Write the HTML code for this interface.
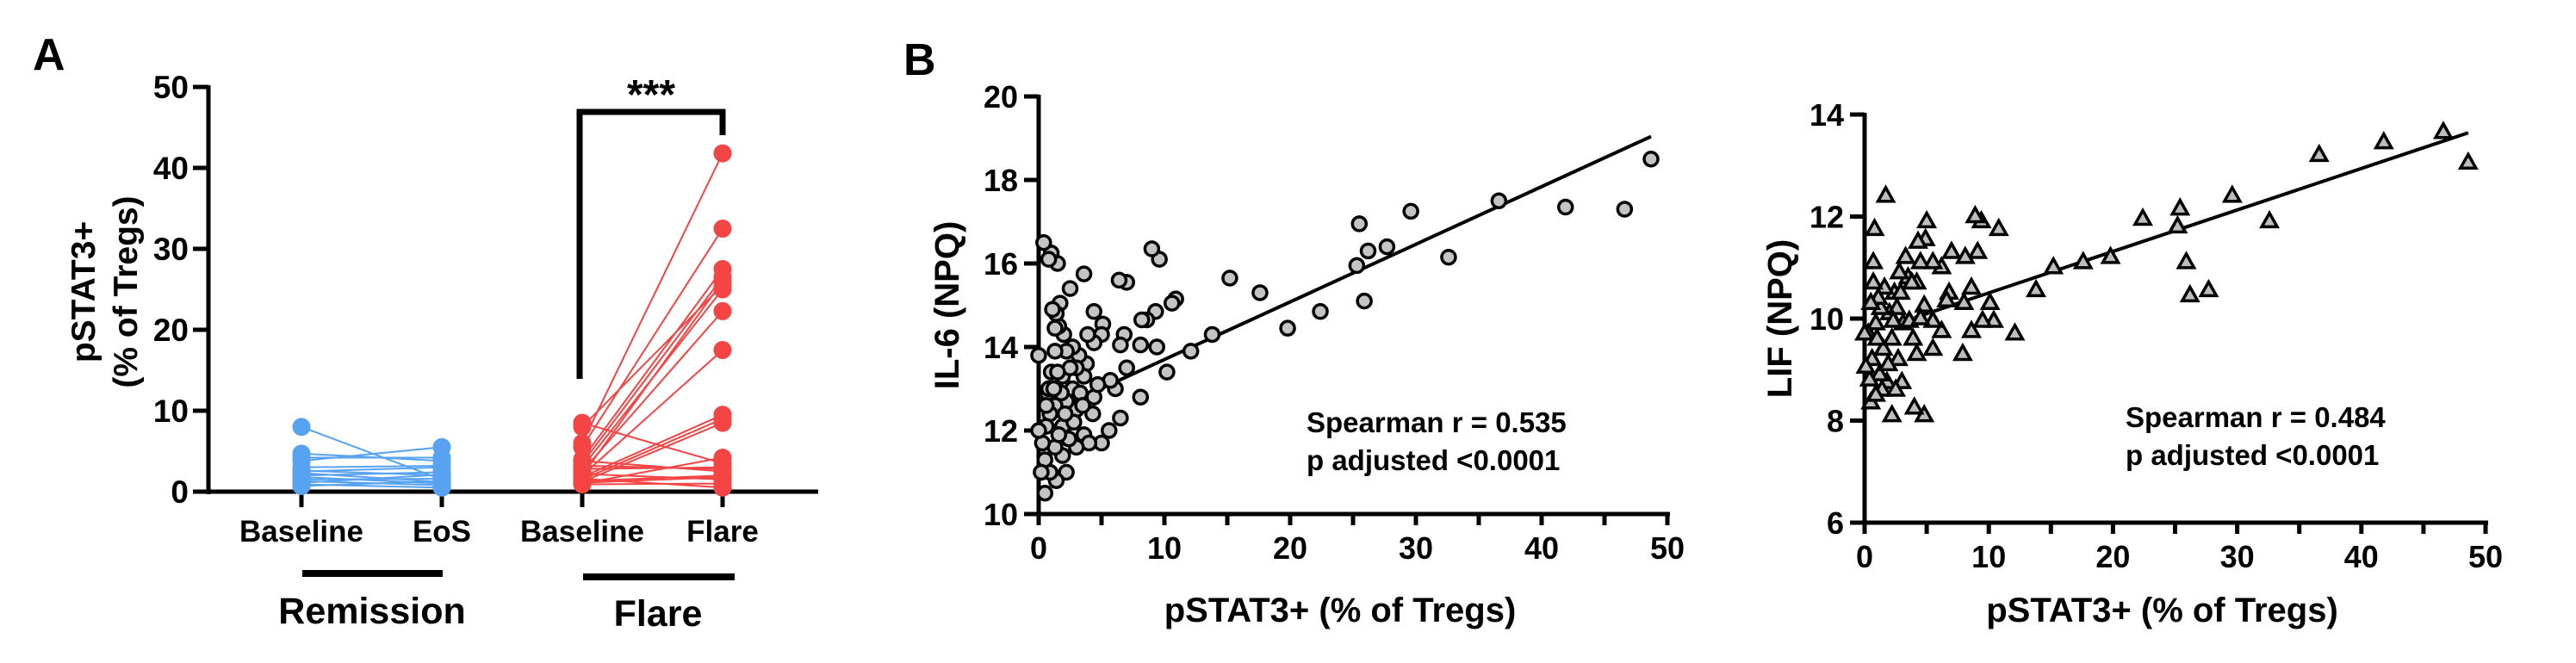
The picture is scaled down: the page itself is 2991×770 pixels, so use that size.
<!DOCTYPE html>
<html><head><meta charset="utf-8">
<style>
html,body{margin:0;padding:0;background:#fff;}
svg{display:block;font-family:"Liberation Sans",Arial,sans-serif;font-weight:bold;}
</style></head>
<body>
<svg id="fig" width="2991" height="770" viewBox="0 0 2991 770" xmlns="http://www.w3.org/2000/svg">
<rect width="2991" height="770" fill="#fff"/>
<text x="38" y="81" font-size="52">A</text>
<text x="1049" y="87" font-size="52">B</text>
<g id="pa"></g>
<g id="pb"></g>
<g id="pc"></g>
</svg>
<script>
// ---------- Panel A data ----------
const catLabels = ["Baseline","EoS","Baseline","Flare"];
const yTicksA = [0,10,20,30,40,50];
const remBaseline = [8.0,4.7,4.2,3.8,3.0,2.6,2.3,2.0,1.8,1.5,1.3,1.1,0.9,0.7,2.5];
const remEoS      = [1.5,3.8,4.2,5.5,3.2,2.0,1.2,2.4,1.0,1.6,0.8,2.1,0.5,1.3,3.0];
const flareBaseline = [8.5,8.0,6.0,5.5,4.0,3.5,3.0,2.5,2.0,1.8,1.5,1.2,1.0,2.8,3.8,1.3,2.2,0.9,1.6,2.0,1.1,3.2];
const flareFlare    = [3.5,25.5,41.8,32.5,27.5,26.5,25.0,22.3,17.5,9.5,9.0,8.5,4.2,3.0,2.5,2.0,1.5,1.0,0.5,26.0,1.8,2.8];
// ---------- Panel B data ----------
const xTicks = [0,10,20,30,40,50];
const yTicksB = [10,12,14,16,18,20];
const il6X = [48.7,46.6,41.9,36.6,32.6,29.6,27.7,26.2,25.5,25.3,25.9,22.4,19.8,17.6,15.2,13.8,12.1,10.9,10.6,10.2,9.6,9.4,9.3,9.0,8.6,8.2,8.1,8.1,7.0,6.8,7.0,6.5,6.4,6.5,6.1,5.7,5.6,5.1,5.0,5.0,4.4,4.4,4.4,4.3,3.9,3.8,3.6,3.6,3.6,4.0,3.2,3.0,3.0,3.0,2.5,2.7,2.7,2.5,2.4,2.2,2.2,2.2,2.0,1.9,1.9,1.9,1.7,1.6,1.5,1.4,1.3,1.3,1.3,1.3,1.4,1.0,0.8,1.0,0.9,0.9,0.7,0.6,0.5,0.4,0.5,0.3,0.2,0.0,0.0,1.1,1.8,2.8,3.3,1.6,2.1,0.8,1.2,0.6,2.5,1.5,3.5,4.7];
const il6Y = [18.5,17.3,17.35,17.5,16.15,17.25,16.4,16.3,16.95,15.95,15.1,14.85,14.45,15.3,15.65,14.3,13.9,15.15,15.05,13.4,16.1,14.0,14.85,16.35,14.65,14.65,14.05,12.8,15.55,14.3,13.5,14.05,15.6,12.3,13.0,13.2,12.0,14.55,14.3,11.7,14.85,14.1,12.8,12.4,14.3,13.6,15.75,13.3,11.9,11.7,13.8,13.5,12.5,11.6,15.4,14.0,13.0,12.2,11.8,13.9,12.7,11.0,14.3,13.3,12.1,11.4,15.05,14.5,16.0,14.8,14.45,13.9,12.6,11.6,10.8,16.25,16.1,13.4,12.4,11.0,12.9,12.1,11.3,16.5,10.5,11.7,11.0,13.8,12.0,14.9,12.9,12.2,12.9,11.9,12.4,13.0,13.0,12.6,13.5,13.4,12.6,13.1];
const il6Fit = [0.138,12.32]; // slope, intercept
const il6FitRange = [1.5,48.7];
// ---------- Panel C data ----------
const yTicksC = [6,8,10,12,14];
const lifX = [48.6,46.6,41.8,36.6,32.6,29.6,27.7,26.2,25.9,25.4,25.2,22.4,19.8,17.6,15.2,13.8,12.1,10.8,10.4,10.1,9.4,9.5,9.1,8.9,8.6,8.6,8.1,8.0,7.9,7.0,6.8,6.6,6.2,6.2,5.5,5.5,5.5,5.0,4.9,4.8,4.8,4.5,4.3,4.2,4.2,4.0,3.9,3.5,3.3,3.1,3.0,2.8,2.7,2.4,2.2,2.2,2.0,1.8,1.7,1.6,1.5,1.3,1.2,0.9,0.8,0.7,0.7,0.6,0.5,0.4,0.3,0.1,0.0,1.1,2.6,3.6,1.0,2.9,1.9,0.5,4.5,3.8,2.3,1.4,0.9,2.5];
const lifY = [13.05,13.65,13.45,13.2,11.9,12.4,10.55,10.45,11.1,12.15,11.8,11.95,11.2,11.1,11.0,10.55,9.7,11.75,9.95,10.3,11.9,9.95,11.3,12.0,9.75,10.6,11.2,10.3,9.3,11.3,10.5,10.35,11.0,9.75,11.1,9.95,9.4,11.9,11.55,10.25,8.1,11.1,11.5,10.7,9.3,8.25,9.6,10.8,11.2,9.9,8.75,10.9,9.2,10.5,8.1,9.6,10.1,8.75,12.4,10.6,9.4,10.2,8.9,9.9,11.75,11.1,10.7,9.2,8.35,8.8,9.7,9.05,9.7,10.4,10.2,9.95,9.6,10.5,9.1,10.3,10.0,10.7,9.95,8.6,8.5,8.6];
const lifFit = [0.0813,9.69];
const lifFitRange = [4.0,48.6];

const NS="http://www.w3.org/2000/svg";
function mk(parent,tag,attrs,txt){const e=document.createElementNS(NS,tag);for(const k in attrs)e.setAttribute(k,attrs[k]);if(txt!==undefined)e.textContent=txt;parent.appendChild(e);return e;}

// ---------- Panel A ----------
(function(){
const g=document.getElementById('pa');
const x0=242, yB=571, yT=101;
const yA=v=>yB-(v/50)*(yB-yT);
const catX=[350,513,676,839];
let e=mk(g,'line',{x1:x0,y1:yT-2,x2:x0,y2:yB+3,stroke:'#000','stroke-width':5});


e=mk(g,'line',{x1:x0-3,y1:yB,x2:950,y2:yB,stroke:'#000','stroke-width':5});


yTicksA.forEach(v=>{
  mk(g,'line',{x1:x0-18,y1:yA(v),x2:x0,y2:yA(v),stroke:'#000','stroke-width':5});
  const t=mk(g,'text',{x:x0-23,y:yA(v)+13,'font-size':37,'text-anchor':'end'},String(v));
  
  
});
catLabels.forEach((l,i)=>{
  mk(g,'line',{x1:catX[i],y1:yB,x2:catX[i],y2:yB+18,stroke:'#000','stroke-width':5});
  const t=mk(g,'text',{x:catX[i],y:629,'font-size':35,'text-anchor':'middle'},l);
  
  
});
mk(g,'rect',{x:351,y:662,width:163,height:8,fill:'#000'});
mk(g,'rect',{x:677,y:666,width:176,height:8,fill:'#000'});
e=mk(g,'text',{x:432,y:724,'font-size':43,'text-anchor':'middle'},'Remission');


e=mk(g,'text',{x:764,y:727,'font-size':43,'text-anchor':'middle'},'Flare');


e=mk(g,'text',{transform:'translate(110,339) rotate(-90)','font-size':39,'text-anchor':'middle'},'pSTAT3+');


e=mk(g,'text',{transform:'translate(159,339) rotate(-90)','font-size':39,'text-anchor':'middle'},'(% of Tregs)');


e=mk(g,'path',{d:'M673,440 V130 H839 V157',fill:'none',stroke:'#000','stroke-width':7});


e=mk(g,'text',{x:756,y:126,'font-size':48,'text-anchor':'middle'},'***');


function pairs(a,b,xa,xb,col,name){
  a.forEach((v,i)=>{
    const l=mk(g,'line',{x1:xa,y1:yA(v),x2:xb,y2:yA(b[i]),stroke:col,'stroke-width':2});
    
    
  });
  a.forEach((v,i)=>{
    const c1=mk(g,'circle',{cx:xa,cy:yA(v),r:10.5,fill:col});
    
    
    const c2=mk(g,'circle',{cx:xb,cy:yA(b[i]),r:10.5,fill:col});
    
    
  });
}
pairs(remBaseline,remEoS,catX[0],catX[1],'#58a2f2','remission');
pairs(flareBaseline,flareFlare,catX[2],catX[3],'#f44444','flare');
})();

// ---------- scatter helper ----------
function scatter(gid,cfg){
const g=document.getElementById(gid);
const {x0,x1,yB,yT,ymin,ymax,yTicks,xs,ys,fit,fitRange,shape,title,yTitleX,labelX,lab1,lab2,labY}=cfg;
const sx=v=>x0+(v/50)*(x1-x0);
const sy=v=>yB-(v-ymin)/(ymax-ymin)*(yB-yT);
let e=mk(g,'line',{x1:x0,y1:yT-2,x2:x0,y2:yB+3,stroke:'#000','stroke-width':5});


e=mk(g,'line',{x1:x0-3,y1:yB,x2:x1+3,y2:yB,stroke:'#000','stroke-width':5});


yTicks.forEach(v=>{
  mk(g,'line',{x1:x0-17,y1:sy(v),x2:x0,y2:sy(v),stroke:'#000','stroke-width':5});
  const t=mk(g,'text',{x:x0-24,y:sy(v)+13,'font-size':36,'text-anchor':'end'},String(v));
  
  
});
for(let v=0;v<=50;v+=5){mk(g,'line',{x1:sx(v),y1:yB,x2:sx(v),y2:yB+13,stroke:'#000','stroke-width':5});}
xTicks.forEach(v=>{
  const t=mk(g,'text',{x:sx(v),y:yB+52,'font-size':36,'text-anchor':'middle'},String(v));
  
  
});
e=mk(g,'text',{x:(x0+x1)/2-15,y:722,'font-size':40,'text-anchor':'middle'},'pSTAT3+ (% of Tregs)');


e=mk(g,'text',{transform:`translate(${yTitleX},${(yB+yT)/2}) rotate(-90)`,'font-size':40,'text-anchor':'middle'},title);


e=mk(g,'line',{x1:sx(fitRange[0]),y1:sy(fit[0]*fitRange[0]+fit[1]),x2:sx(fitRange[1]),y2:sy(fit[0]*fitRange[1]+fit[1]),stroke:'#000','stroke-width':4});


xs.forEach((xv,i)=>{
  const cx=sx(xv), cy=sy(ys[i]);
  let m;
  if(shape==='circle') m=mk(g,'circle',{cx:cx,cy:cy,r:8,fill:'#c4c4c4',stroke:'#000','stroke-width':3.5});
  else m=mk(g,'path',{d:`M${cx},${cy-10} L${cx+9},${cy+6} L${cx-9},${cy+6} Z`,fill:'#bdbdbd',stroke:'#000','stroke-width':3.5,'stroke-linejoin':'miter'});
  
  
});
e=mk(g,'text',{x:labelX,y:labY,'font-size':33},lab1);


e=mk(g,'text',{x:labelX,y:labY+44,'font-size':33},lab2);


}
scatter('pb',{x0:1206,x1:1936,yB:597,yT:112,ymin:10,ymax:20,yTicks:yTicksB,xs:il6X,ys:il6Y,fit:il6Fit,fitRange:il6FitRange,shape:'circle',title:'IL-6 (NPQ)',yTitleX:1113,labelX:1517,lab1:'Spearman r = 0.535',lab2:'p adjusted <0.0001',labY:502});
scatter('pc',{x0:2165,x1:2886,yB:607,yT:133,ymin:6,ymax:14,yTicks:yTicksC,xs:lifX,ys:lifY,fit:lifFit,fitRange:lifFitRange,shape:'tri',title:'LIF (NPQ)',yTitleX:2080,labelX:2468,lab1:'Spearman r = 0.484',lab2:'p adjusted <0.0001',labY:496});
</script>
</body></html>
